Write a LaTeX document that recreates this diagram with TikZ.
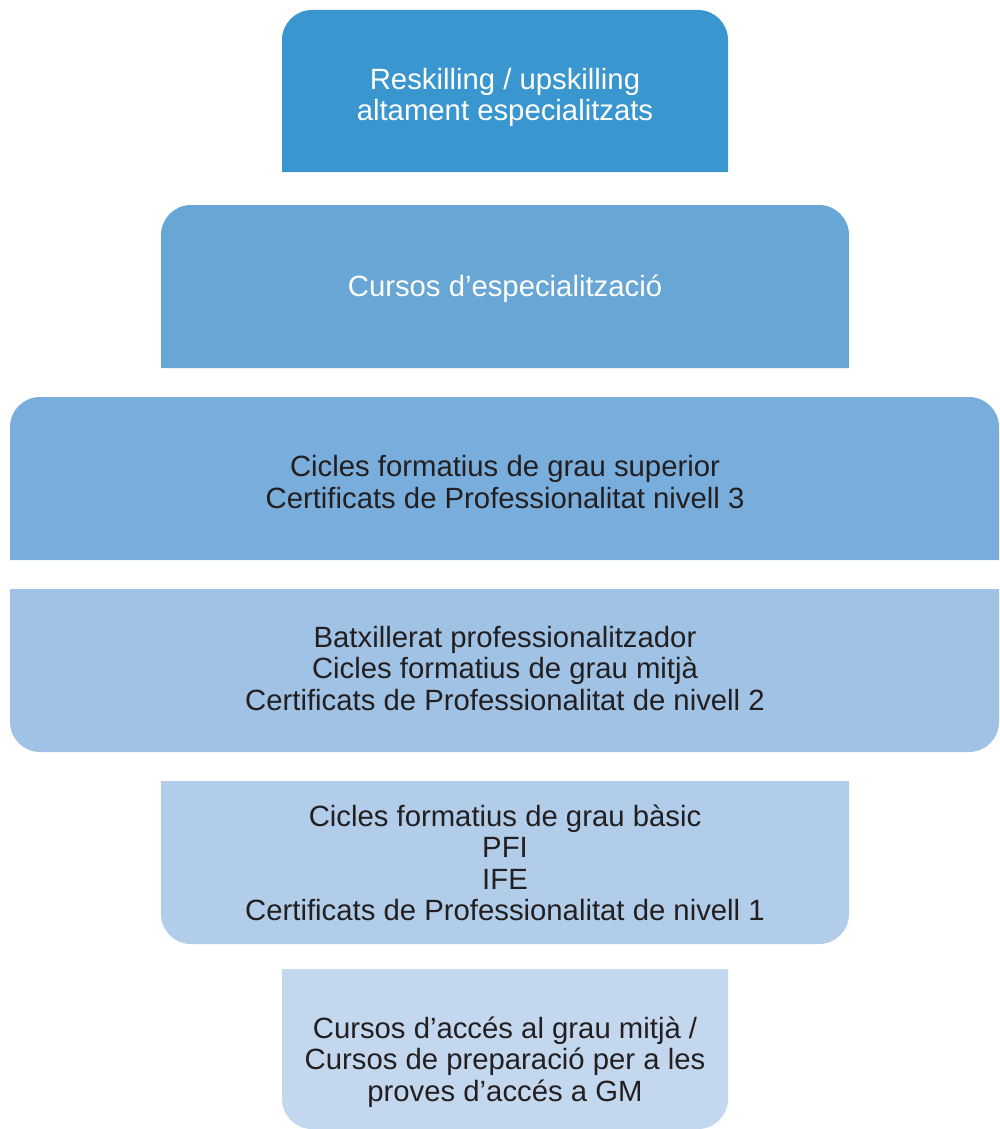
\documentclass[tikz,border=0pt]{standalone}
\usepackage{fontspec}
\setmainfont{Liberation Sans}
\definecolor{cA}{HTML}{3A96CF}
\definecolor{cB}{HTML}{67A6D5}
\definecolor{cC}{HTML}{79AEDC}
\definecolor{cD}{HTML}{A0C2E5}
\definecolor{cE}{HTML}{B1CDE9}
\definecolor{cF}{HTML}{C3D8EF}
\definecolor{txt}{HTML}{231F20}
\begin{document}
\begin{tikzpicture}[x=1pt,y=-1pt,
  lbl/.style={align=center,font=\fontsize{29.3}{31.5}\selectfont,inner sep=0pt},
  dark/.style={lbl,text=txt},
  light/.style={lbl,text=white}]
\useasboundingbox (0,0) rectangle (999,1129);
% top-rounded boxes
\fill[cA] (282,172) [rounded corners=30] -- (282,10) -- (728,10) [sharp corners] -- (728,172) -- cycle;
\fill[cB] (161,368) [rounded corners=30] -- (161,205) -- (849,205) [sharp corners] -- (849,368) -- cycle;
\fill[cC] (10,560) [rounded corners=30] -- (10,397) -- (999,397) [sharp corners] -- (999,560) -- cycle;
% bottom-rounded boxes
\fill[cD] (10,589) [rounded corners=30] -- (10,752) -- (999,752) [sharp corners] -- (999,589) -- cycle;
\fill[cE] (161,781) [rounded corners=30] -- (161,944) -- (849,944) [sharp corners] -- (849,781) -- cycle;
\fill[cF] (282,969) [rounded corners=30] -- (282,1129) -- (728,1129) [sharp corners] -- (728,969) -- cycle;
% labels
\node[light] (t1) at (505,97.5) {Reskilling / upskilling\\altament especialitzats};
\node[light] (t2) at (505,289) {Cursos d’especialització};
\node[dark] (t3) at (505,482) {Cicles formatius de grau superior\\Certificats de Professionalitat nivell 3};
\node[dark] (t4) at (505,668.5) {Batxillerat professionalitzador\\Cicles formatius de grau mitjà\\Certificats de Professionalitat de nivell 2};
\node[dark] (t5) at (505,863) {Cicles formatius de grau bàsic\\PFI\\IFE\\Certificats de Professionalitat de nivell 1};
\node[dark] (t6) at (505,1062) {Cursos d’accés al grau mitjà /\\Cursos de preparació per a les\\proves d’accés a GM};
\end{tikzpicture}
\end{document}
